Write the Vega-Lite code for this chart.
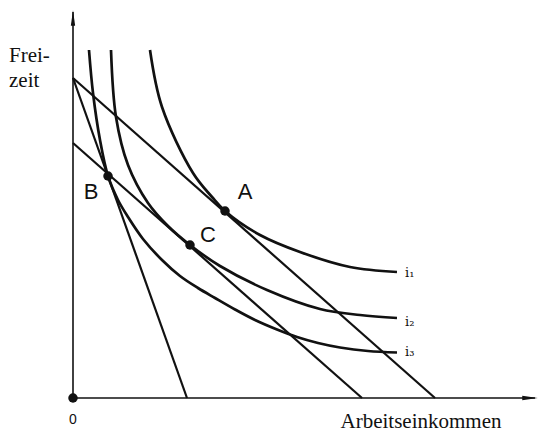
{
  "$schema": "https://vega.github.io/schema/vega-lite/v6.json",
  "width": 541,
  "height": 434,
  "padding": 0,
  "autosize": "none",
  "background": "white",
  "config": {"view": {"stroke": null}},
  "datasets": {
    "curves": [
      {"c": "i1", "x": 77, "y": 348}, {"c": "i1", "x": 89, "y": 291}, {"c": "i1", "x": 120, "y": 225}, {"c": "i1", "x": 139, "y": 201}, {"c": "i1", "x": 152, "y": 187}, {"c": "i1", "x": 187, "y": 163}, {"c": "i1", "x": 227, "y": 146}, {"c": "i1", "x": 277, "y": 131}, {"c": "i1", "x": 324, "y": 126},
      {"c": "i2", "x": 38, "y": 348}, {"c": "i2", "x": 43, "y": 281}, {"c": "i2", "x": 55, "y": 233}, {"c": "i2", "x": 75, "y": 195}, {"c": "i2", "x": 95, "y": 172}, {"c": "i2", "x": 117, "y": 153}, {"c": "i2", "x": 147, "y": 132}, {"c": "i2", "x": 194, "y": 108}, {"c": "i2", "x": 247, "y": 89}, {"c": "i2", "x": 287, "y": 83}, {"c": "i2", "x": 324, "y": 80},
      {"c": "i3", "x": 16, "y": 348}, {"c": "i3", "x": 20, "y": 305}, {"c": "i3", "x": 27, "y": 258}, {"c": "i3", "x": 35, "y": 222}, {"c": "i3", "x": 45, "y": 198}, {"c": "i3", "x": 55, "y": 181}, {"c": "i3", "x": 70, "y": 159}, {"c": "i3", "x": 89, "y": 138}, {"c": "i3", "x": 107, "y": 122}, {"c": "i3", "x": 125, "y": 110}, {"c": "i3", "x": 142, "y": 100}, {"c": "i3", "x": 162, "y": 88.5}, {"c": "i3", "x": 182, "y": 78}, {"c": "i3", "x": 204, "y": 68.5}, {"c": "i3", "x": 224, "y": 61}, {"c": "i3", "x": 245, "y": 55}, {"c": "i3", "x": 267, "y": 50.5}, {"c": "i3", "x": 295, "y": 47}, {"c": "i3", "x": 324, "y": 45.5}
    ],
    "budgets": [
      {"c": "L1", "x": 0, "y": 320}, {"c": "L1", "x": 114, "y": 0},
      {"c": "L2", "x": 0, "y": 320}, {"c": "L2", "x": 362, "y": 0},
      {"c": "L3", "x": 0, "y": 255}, {"c": "L3", "x": 289, "y": 0}
    ],
    "axes": [
      {"c": "x", "x": 0, "y": 0}, {"c": "x", "x": 462, "y": 0},
      {"c": "y", "x": 0, "y": 0}, {"c": "y", "x": 0, "y": 386}
    ],
    "points": [
      {"p": "A", "x": 152, "y": 187}, {"p": "B", "x": 35, "y": 222}, {"p": "C", "x": 117, "y": 153}, {"p": "O", "x": 0, "y": 0}
    ],
    "pointLabels": [
      {"t": "A", "x": 172, "y": 206}, {"t": "B", "x": 18, "y": 206}, {"t": "C", "x": 135, "y": 163}
    ],
    "curveLabels": [
      {"t": "i₁", "x": 332, "y": 125}, {"t": "i₂", "x": 332, "y": 76}, {"t": "i₃", "x": 332, "y": 46}
    ]
  },
  "layer": [
    {
      "data": {"name": "axes"},
      "mark": {"type": "line", "color": "#111", "strokeWidth": 1.6},
      "encoding": {
        "x": {"field": "x", "type": "quantitative", "scale": {"domain": [-73, 468], "nice": false, "zero": false}, "axis": null},
        "y": {"field": "y", "type": "quantitative", "scale": {"domain": [-36, 398], "nice": false, "zero": false}, "axis": null},
        "detail": {"field": "c"}
      }
    },
    {
      "data": {"values": [{"x": 0, "y": 380}]},
      "mark": {"type": "point", "shape": "M0,-1L0.28,1L-0.28,1Z", "filled": true, "color": "#111", "size": 240, "opacity": 1},
      "encoding": {"x": {"field": "x", "type": "quantitative"}, "y": {"field": "y", "type": "quantitative"}}
    },
    {
      "data": {"values": [{"x": 457, "y": 0}]},
      "mark": {"type": "point", "shape": "M1,0L-1,0.28L-1,-0.28Z", "filled": true, "color": "#111", "size": 240, "opacity": 1},
      "encoding": {"x": {"field": "x", "type": "quantitative"}, "y": {"field": "y", "type": "quantitative"}}
    },
    {
      "data": {"name": "budgets"},
      "mark": {"type": "line", "color": "#111", "strokeWidth": 2.2},
      "encoding": {
        "x": {"field": "x", "type": "quantitative"},
        "y": {"field": "y", "type": "quantitative"},
        "detail": {"field": "c"}
      }
    },
    {
      "data": {"name": "curves"},
      "mark": {"type": "line", "color": "#111", "strokeWidth": 2.7, "interpolate": "catmull-rom"},
      "encoding": {
        "x": {"field": "x", "type": "quantitative"},
        "y": {"field": "y", "type": "quantitative"},
        "detail": {"field": "c"}
      }
    },
    {
      "data": {"name": "points"},
      "mark": {"type": "circle", "color": "#111", "size": 90, "opacity": 1},
      "encoding": {"x": {"field": "x", "type": "quantitative"}, "y": {"field": "y", "type": "quantitative"}}
    },
    {
      "data": {"name": "pointLabels"},
      "mark": {"type": "text", "font": "Liberation Sans", "fontSize": 22, "color": "#111", "align": "center", "baseline": "middle"},
      "encoding": {"x": {"field": "x", "type": "quantitative"}, "y": {"field": "y", "type": "quantitative"}, "text": {"field": "t"}}
    },
    {
      "data": {"name": "curveLabels"},
      "mark": {"type": "text", "font": "DejaVu Serif", "fontSize": 13, "color": "#111", "align": "left", "baseline": "middle"},
      "encoding": {"x": {"field": "x", "type": "quantitative"}, "y": {"field": "y", "type": "quantitative"}, "text": {"field": "t"}}
    },
    {
      "data": {"values": [{"t": "0", "x": 0, "y": -22}]},
      "mark": {"type": "text", "font": "Liberation Sans", "fontSize": 14, "color": "#111", "align": "center", "baseline": "middle"},
      "encoding": {"x": {"field": "x", "type": "quantitative"}, "y": {"field": "y", "type": "quantitative"}, "text": {"field": "t"}}
    },
    {
      "data": {"values": [{"t": "Arbeitseinkommen", "x": 348, "y": -30}]},
      "mark": {"type": "text", "font": "Liberation Serif", "fontSize": 21, "color": "#111", "align": "center", "baseline": "alphabetic"},
      "encoding": {"x": {"field": "x", "type": "quantitative"}, "y": {"field": "y", "type": "quantitative"}, "text": {"field": "t"}}
    },
    {
      "data": {"values": [{"t": "Frei-", "x": -64, "y": 336}, {"t": "zeit", "x": -64, "y": 311}]},
      "mark": {"type": "text", "font": "Liberation Serif", "fontSize": 21, "color": "#111", "align": "left", "baseline": "alphabetic"},
      "encoding": {"x": {"field": "x", "type": "quantitative"}, "y": {"field": "y", "type": "quantitative"}, "text": {"field": "t"}}
    }
  ]
}
